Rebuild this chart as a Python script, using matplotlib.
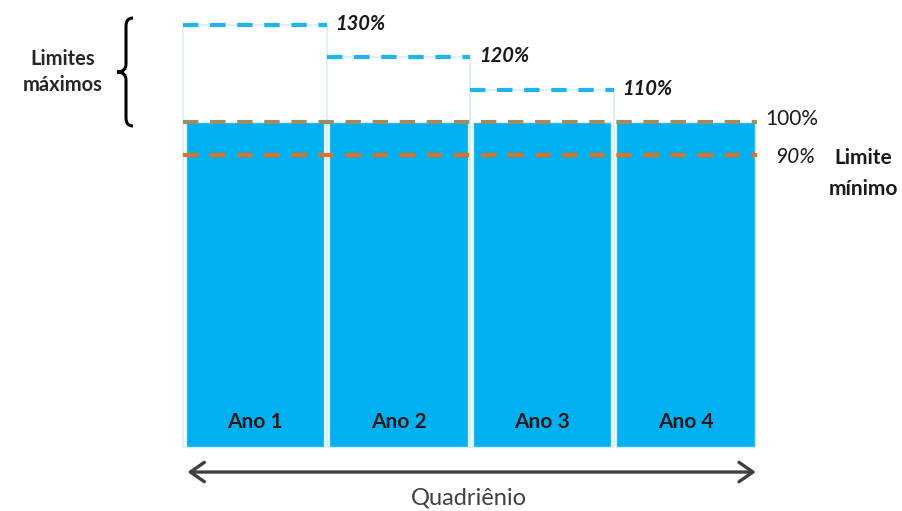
import matplotlib
matplotlib.use("Agg")
import matplotlib.pyplot as plt
from matplotlib.path import Path
from matplotlib.patches import PathPatch

plt.rcParams['font.family'] = ['Lato', 'DejaVu Sans']

# ---- data ----
years = ["Ano 1", "Ano 2", "Ano 3", "Ano 4"]
base_values = [100, 100, 100, 100]
max_limits = [130, 120, 110]
max_labels = ["130%", "120%", "110%"]
reference_level = 100
reference_label = "100%"
min_limit = 90
min_label = "90%"

# ---- style ----
BLUE = "#00B0F0"
LIGHT_EDGE = "#D2F1FC"
DASH_BLUE = "#1FB4EE"
OLIVE = "#9A8F64"
ORANGE = "#E2711D"
TXT = "#1A1A1A"
GREY = "#404040"

fig = plt.figure(figsize=(9.02, 5.11), dpi=100)
ax = fig.add_axes([0, 0, 1, 1])
ax.set_xlim(-1.777, 4.509)
ax.set_ylim(-19.69, 137.54)
ax.axis("off")

x = list(range(len(years)))

# limit boxes (white with light outline)
xl = x[:len(max_limits)]
ax.bar(xl, max_limits, width=1.0, color="white", edgecolor=LIGHT_EDGE, linewidth=1.2, zorder=1)
# main bars
ax.bar(x, base_values, width=0.965, color=BLUE, edgecolor=LIGHT_EDGE, linewidth=1.0, zorder=2)

dash = (3.7, 2.8)
# dashed limit lines
for xi, lim, lab in zip(xl, max_limits, max_labels):
    ax.hlines(lim, xi - 0.5, xi + 0.5, colors=DASH_BLUE, linewidth=3, linestyles=[(0, dash)], zorder=3)
    ax.text(xi + 0.5 + 0.06, lim + 0.3, lab, ha="left", va="center", fontsize=14.5,
            fontstyle="italic", fontweight="bold", color=TXT)

# 100% reference line
ax.hlines(reference_level, x[0] - 0.5, x[-1] + 0.5, colors=OLIVE, linewidth=3,
          linestyles=[(0, dash)], zorder=4)
ax.text(x[-1] + 0.5 + 0.055, reference_level + 1.0, reference_label, ha="left", va="center",
        fontsize=15, color=TXT)

# 90% minimum line
ax.hlines(min_limit, x[0] - 0.5, x[-1] + 0.5, colors=ORANGE, linewidth=3,
          linestyles=[(0, dash)], zorder=4)
ax.text(x[-1] + 0.5 + 0.125, min_limit - 0.8, min_label, ha="left", va="center",
        fontsize=15, fontstyle="italic", color=TXT)
ax.text(x[-1] + 0.5 + 0.74, min_limit - 5.8, "Limite\nmínimo", ha="center", va="center",
        fontsize=15, fontweight="bold", color=TXT, linespacing=1.65)

# year labels inside bars
for xi, name in zip(x, years):
    ax.text(xi, 7.6, name, ha="center", va="center", fontsize=15, fontweight="bold", color=TXT)

# double-headed arrow (quadriennium)
ax.annotate("", xy=(x[-1] + 0.49, -7.7), xytext=(x[0] - 0.47, -7.7),
            arrowprops=dict(arrowstyle="<->,head_length=0.5,head_width=0.35",
                            color=GREY, lw=2.4, mutation_scale=20,
                            shrinkA=0, shrinkB=0))
ax.text((x[0] + x[-1]) / 2 - 0.01, -15.6, "Quadriênio", ha="center", va="center",
        fontsize=17, color=GREY)

# brace + "Limites máximos" in pixel overlay
deco = fig.add_axes([0, 0, 1, 1], facecolor="none")
deco.set_xlim(0, 902)
deco.set_ylim(511, 0)
deco.axis("off")
verts = [(133, 18), (126, 18), (126, 26),
         (126, 64),
         (126, 72), (117, 72),
         (126, 72), (126, 80),
         (126, 118),
         (126, 126), (133, 126)]
codes = [Path.MOVETO, Path.CURVE3, Path.CURVE3,
         Path.LINETO,
         Path.CURVE3, Path.CURVE3,
         Path.CURVE3, Path.CURVE3,
         Path.LINETO,
         Path.CURVE3, Path.CURVE3]
deco.add_patch(PathPatch(Path(verts, codes), facecolor="none", edgecolor="black", lw=2.2))
deco.text(63, 72, "Limites\nmáximos", ha="center", va="center", fontsize=14.5,
          fontweight="bold", color="#262626", linespacing=1.35)

fig.savefig("out.png", dpi=100)
